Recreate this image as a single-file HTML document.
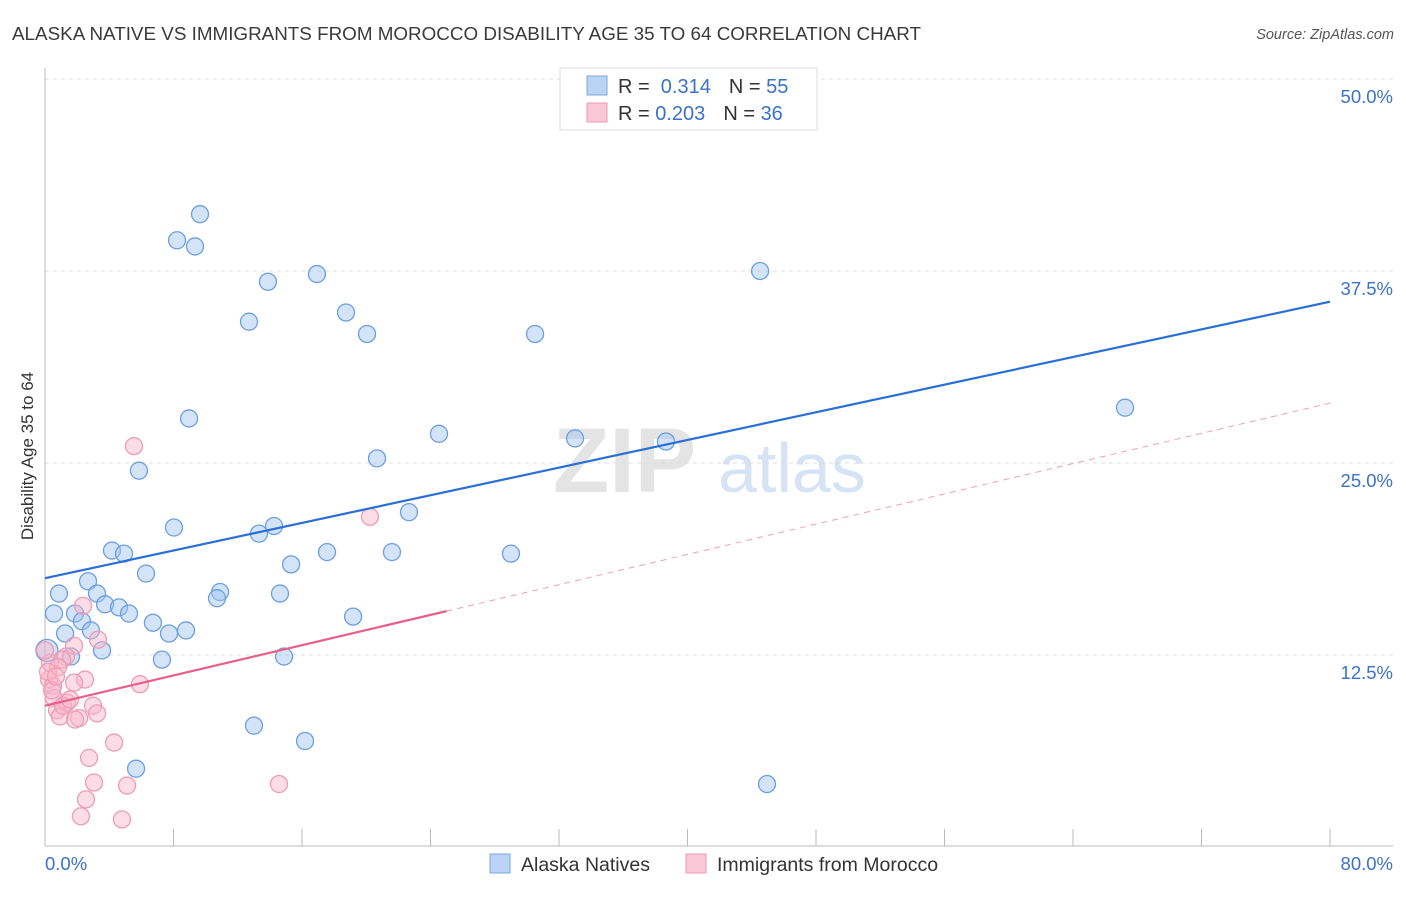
<!DOCTYPE html>
<html><head><meta charset="utf-8"><style>
body{margin:0;background:#fff;font-family:"Liberation Sans",sans-serif;}
svg text{font-family:"Liberation Sans",sans-serif;}
</style></head><body>
<svg id="chart" width="1406" height="892" xmlns="http://www.w3.org/2000/svg">
<text x="12" y="40" font-size="18" fill="#3a3a3a" textLength="909" lengthAdjust="spacingAndGlyphs">ALASKA NATIVE VS IMMIGRANTS FROM MOROCCO DISABILITY AGE 35 TO 64 CORRELATION CHART</text>
<text x="1394" y="39" font-size="14.5" fill="#555" text-anchor="end" font-style="italic">Source: ZipAtlas.com</text>
<text x="553" y="492" font-size="92" fill="#e4e4e4" font-family="Liberation Serif" font-weight="bold">ZIP</text>
<text x="718" y="492" font-size="70" fill="#d5e3f5">atlas</text>
<g id="grid"></g>
<g id="axes"></g>
<g id="pts"></g>
<g id="lines"></g>
<text transform="translate(33,456) rotate(-90)" font-size="17" fill="#333" text-anchor="middle">Disability Age 35 to 64</text>
<g>
<rect x="560" y="68" width="257" height="62" fill="#fff" stroke="#ddd"/>
<rect x="587" y="76" width="20" height="19" fill="#b8d3f3" stroke="#7aa9e0"/>
<rect x="587" y="103" width="20" height="19" fill="#fac7d6" stroke="#eb9ab2"/>
<text x="618" y="93" font-size="20" fill="#333">R = <tspan fill="#3a72c8">&#160;0.314</tspan><tspan dx="18">N = </tspan><tspan fill="#3a72c8">55</tspan></text>
<text x="618" y="120" font-size="20" fill="#333">R = <tspan fill="#3a72c8">0.203</tspan><tspan dx="18">N = </tspan><tspan fill="#3a72c8">36</tspan></text>
</g>
<g>
<rect x="490" y="854" width="20" height="19" fill="#b8d3f3" stroke="#7aa9e0"/>
<text x="521" y="871" font-size="19.5" fill="#333">Alaska Natives</text>
<rect x="686" y="854" width="20" height="19" fill="#fac7d6" stroke="#eb9ab2"/>
<text x="717" y="871" font-size="19.5" fill="#333">Immigrants from Morocco</text>
</g>
</svg>
<script>
const yTicks=[12.5,25,37.5,50];
const yTickLabels=["12.5%","25.0%","37.5%","50.0%"];
const xTickLabels=["0.0%","80.0%"];
const blueX=[9.65,8.22,9.34,13.88,16.93,44.52,12.7,18.74,20.05,30.51,67.24,8.97,24.53,33.0,38.66,20.67,5.85,8.03,14.26,13.32,22.66,4.17,4.92,17.56,21.6,29.01,15.32,6.29,2.68,0.87,3.24,10.9,10.71,14.63,3.74,4.61,0.56,1.87,5.23,2.3,6.72,19.18,1.25,2.86,7.72,8.78,0.12,1.62,3.55,7.28,14.88,13.01,16.19,5.67,44.95];
const blueY=[41.2,39.5,39.1,36.8,37.3,37.5,34.2,34.8,33.4,33.4,28.6,27.9,26.9,26.6,26.4,25.3,24.5,20.8,20.9,20.4,21.8,19.3,19.1,19.2,19.2,19.1,18.4,17.8,17.3,16.5,16.5,16.6,16.2,16.5,15.8,15.6,15.2,15.2,15.2,14.7,14.6,15.0,13.9,14.1,13.9,14.1,12.8,12.4,12.8,12.2,12.4,7.9,6.9,5.1,4.1];
const pinkX=[5.54,20.23,2.37,3.3,1.81,1.31,0.31,1.06,0.81,0.25,2.49,1.81,0.5,5.91,0.56,1.37,2.99,0.75,3.24,0.93,2.12,1.87,4.3,2.74,3.05,5.11,14.57,2.55,2.24,4.79,0.0,0.44,1.12,1.56,0.19,0.68];
const pinkY=[26.1,21.5,15.7,13.5,13.1,12.4,12.0,12.2,11.7,10.9,10.9,10.7,10.5,10.6,9.7,9.4,9.2,8.9,8.7,8.5,8.4,8.3,6.8,5.8,4.2,4.0,4.1,3.1,2.0,1.8,12.8,10.2,9.2,9.6,11.4,11.1];
const blueTrend=[17.5,35.5];
const pinkTrend=[9.2,28.9];
const pinkSolidEnd=25;
const NS="http://www.w3.org/2000/svg";
const X=v=>45+v/80*1285, Y=v=>847-v/12.5*192;
function mk(tag,attrs,parent){const e=document.createElementNS(NS,tag);for(const k in attrs)e.setAttribute(k,attrs[k]);document.getElementById(parent).appendChild(e);return e;}
yTicks.forEach((t,i)=>{
 const g=mk('line',{x1:45,x2:1393,y1:Y(t),y2:Y(t),stroke:'#ddd','stroke-dasharray':'4,4'},'grid');
 
 
 const tx=mk('text',{x:1393,y:Y(t)+24,'font-size':18.5,fill:'#3a72c8','text-anchor':'end'},'grid');
 tx.textContent=yTickLabels[i];
 
 
});
const ax=mk('line',{x1:45,x2:1393,y1:846,y2:846,stroke:'#bbb'},'axes');


const ay=mk('line',{x1:45,x2:45,y1:68,y2:846,stroke:'#bbb'},'axes');


for(let i=0;i<=10;i++){const t=mk('line',{x1:X(i*8),x2:X(i*8),y1:829,y2:846,stroke:'#bbb'},'axes');
 
 }
[[0,'start',45],[80,'end',1393]].forEach((a,i)=>{const t=mk('text',{x:a[2],y:870,'font-size':18.5,fill:'#3a72c8','text-anchor':a[1]},'axes');t.textContent=xTickLabels[i];
 
 });
blueX.forEach((v,i)=>{const c=mk('circle',{cx:X(v),cy:Y(blueY[i]),r:(i==46?11:8.5),fill:'rgba(160,196,240,0.45)',stroke:'#6c9fdf','stroke-width':1.3},'pts');
 
 });
pinkX.forEach((v,i)=>{const c=mk('circle',{cx:X(v),cy:Y(pinkY[i]),r:8.5,fill:'rgba(248,180,200,0.45)',stroke:'#ee9bb5','stroke-width':1.3},'pts');
 
 });
const bl=mk('line',{x1:X(0),y1:Y(blueTrend[0]),x2:X(80),y2:Y(blueTrend[1]),stroke:'#2a6fd6','stroke-width':2.2},'lines');


const pf=v=>pinkTrend[0]+(pinkTrend[1]-pinkTrend[0])*v/80;
const pl=mk('line',{x1:X(0),y1:Y(pinkTrend[0]),x2:X(pinkSolidEnd),y2:Y(pf(pinkSolidEnd)),stroke:'#e8608a','stroke-width':2.2},'lines');


const pd=mk('line',{x1:X(pinkSolidEnd),y1:Y(pf(pinkSolidEnd)),x2:X(80),y2:Y(pinkTrend[1]),stroke:'#eea0b8','stroke-width':1,'stroke-dasharray':'6,5'},'lines');


</script>
</body></html>
